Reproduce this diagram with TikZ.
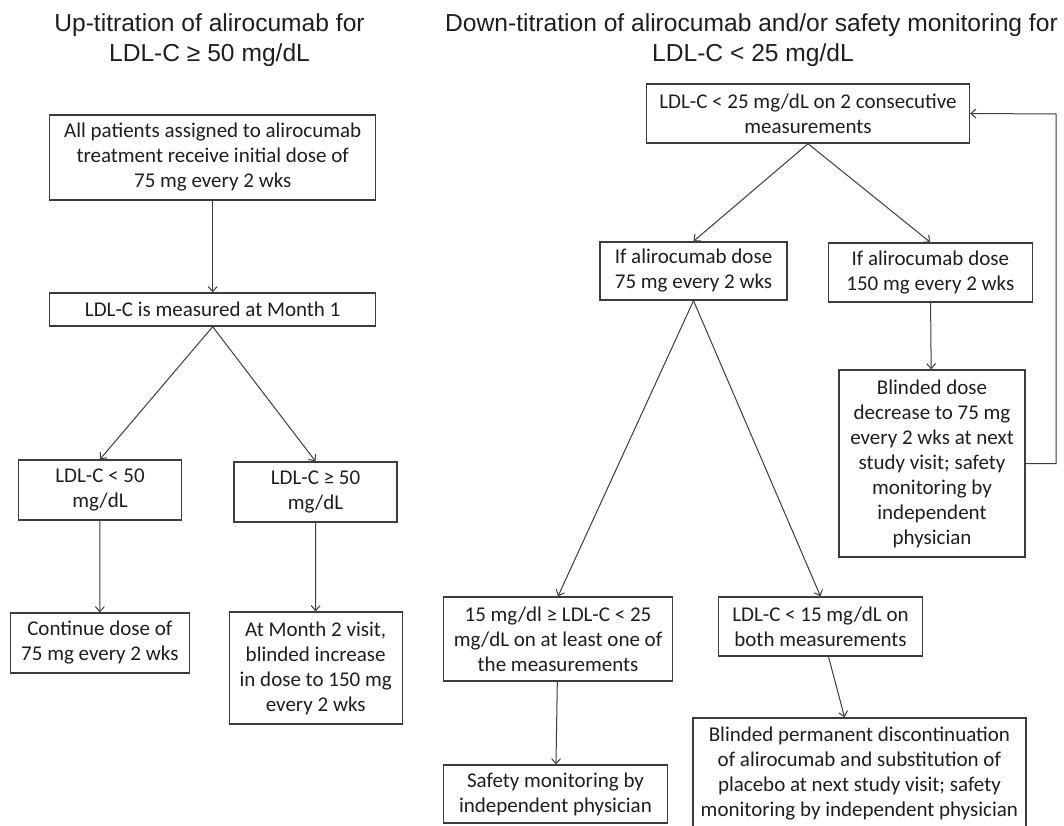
\documentclass[tikz,border=0pt]{standalone}
\usepackage{fontspec}
\setmainfont{Carlito}
\newfontfamily\titlefont{Liberation Sans}
\usetikzlibrary{arrows.meta}
\definecolor{linegray}{HTML}{3C3C3C}
\definecolor{textgray}{HTML}{1E1E1E}
\begin{document}
\begin{tikzpicture}[x=1pt,y=-1pt,
  box/.style={draw=linegray, line width=1.4pt, inner sep=0pt, align=center,
    text=textgray, font=\fontsize{21}{25}\selectfont},
  ttl/.style={anchor=base, inner sep=0pt, text=textgray,
    font=\titlefont\fontsize{24.6}{30}\selectfont},
  arr/.style={draw=linegray, line width=1pt, -{Straight Barb[length=5pt,width=9pt]}}]
\clip (0,0) rectangle (1064,826);
% titles
\node[ttl] (t1a) at (209.5,32) {Up-titration of alirocumab for};
\node[ttl] (t1b) at (209.5,62) {LDL-C ≥ 50 mg/dL};
\node[ttl] (t2a) at (751.5,32) {Down-titration of alirocumab and/or safety monitoring for};
\node[ttl] (t2b) at (753,62) {LDL-C < 25 mg/dL};
% left flow
\node[box, minimum width=326pt, minimum height=85pt] (A) at (212.7,157.5)
  {All patients assigned to alirocumab\\treatment receive initial dose of\\75 mg every 2 wks};
\node[box, minimum width=326pt, minimum height=33pt] (B) at (212.7,309.5)
  {LDL-C is measured at Month 1};
\node[box, minimum width=163pt, minimum height=60pt] (C) at (100,490)
  {LDL-C < 50\\mg/dL};
\node[box, minimum width=163pt, minimum height=60pt] (D) at (315.5,492)
  {LDL-C ≥ 50\\mg/dL};
\node[box, minimum width=179pt, minimum height=60pt] (E) at (99.8,643)
  {Continue dose of\\75 mg every 2 wks};
\node[box, minimum width=173pt, minimum height=112pt] (F) at (315.7,668)
  {At Month 2 visit,\\blinded increase\\in dose to 150 mg\\every 2 wks};
% right flow
\node[box, minimum width=323pt, minimum height=59pt] (G) at (808,113.5)
  {LDL-C < 25 mg/dL on 2 consecutive\\measurements};
\node[box, minimum width=187pt, minimum height=58pt] (H) at (693.5,271)
  {If alirocumab dose\\75 mg every 2 wks};
\node[box, minimum width=204pt, minimum height=59pt] (I) at (930.3,272.5)
  {If alirocumab dose\\150 mg every 2 wks};
\node[box, minimum width=186pt, minimum height=187pt] (J) at (932,463.5)
  {Blinded dose\\decrease to 75 mg\\every 2 wks at next\\study visit; safety\\monitoring by\\independent\\physician};
\node[box, minimum width=229pt, minimum height=84pt] (K) at (558,639)
  {15 mg/dl ≥ LDL-C < 25\\mg/dL on at least one of\\the measurements};
\node[box, minimum width=204pt, minimum height=59pt] (L) at (820.5,626.5)
  {LDL-C < 15 mg/dL on\\both measurements};
\node[box, minimum width=224pt, minimum height=58pt] (M) at (555.5,794)
  {Safety monitoring by\\independent physician};
\node[box, minimum width=333pt, minimum height=111pt] (N) at (859.4,773.5)
  {Blinded permanent discontinuation\\of alirocumab and substitution of\\placebo at next study visit; safety\\monitoring by independent physician};
\coordinate (fb) at (1056,114);
% connectors
\draw[arr] (A) -- (B);
\draw[arr] (B.south) -- (C.north);
\draw[arr] (B.south) -- (D.north);
\draw[arr] (C) -- (E);
\draw[arr] (D) -- (F);
\draw[arr] (G.south) -- (H.north);
\draw[arr] (G.south) -- (I.north);
\draw[arr] (I) -- (J);
\draw[arr] (H.south) -- (K.north);
\draw[arr] (H.south) -- (L.north);
\draw[arr] (K) -- (M);
\draw[arr] (L) -- (N);
\draw[arr] (J.east) -| (fb) -- (G.east);
\end{tikzpicture}
\end{document}
